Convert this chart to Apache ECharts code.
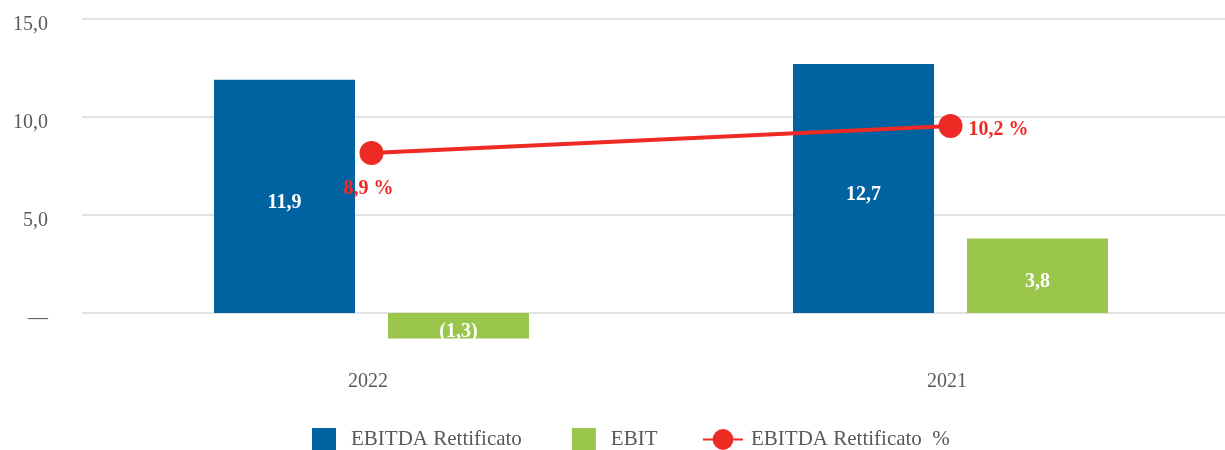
<!DOCTYPE html>
<html><head><meta charset="utf-8">
<script src="https://cdn.jsdelivr.net/npm/echarts@6/dist/echarts.min.js"></script>
<style>html,body{margin:0;padding:0;background:#fff}#c{width:1225px;height:450px}</style>
</head><body><div id="c"></div>
<script>
const categories = ['2022', '2021'];
const ebitdaAdj = [11.9, 12.7];
const ebit = [-1.3, 3.8];
const ebitdaPct = [8.9, 10.2];
const yTicks = [0, 5, 10, 15];

const FONT = 'Liberation Serif';
const fmt = v => v.toFixed(1).replace('.', ',');
const barFmt = p => p.value < 0 ? '(' + fmt(-p.value) + ')' : fmt(p.value);

const chart = echarts.init(document.getElementById('c'));
chart.setOption({
  animation: false,
  textStyle: { fontFamily: FONT },
  grid: { left: 82, width: 1158, top: 19, bottom: 137, containLabel: false, outerBoundsMode: 'none' },
  legend: [
    { data: ['EBITDA Rettificato', 'EBIT'], left: 312, top: 428, padding: 0, icon: 'rect', itemWidth: 24, itemHeight: 22, itemGap: 50,
      textStyle: { fontFamily: FONT, fontSize: 21, color: '#595959', padding: [0, 0, 0, 10] } },
    { data: ['EBITDA Rettificato  %'], left: 702, top: 429, padding: 0, itemWidth: 40, itemHeight: 26,
      textStyle: { fontFamily: FONT, fontSize: 21, color: '#595959', padding: [0, 0, 0, 3] } }
  ],
  xAxis: {
    type: 'category', data: categories,
    axisLine: { show: false }, axisTick: { show: false },
    axisLabel: { margin: 59, fontFamily: FONT, fontSize: 20, color: '#595959', padding: [0, 7, 0, 0] }
  },
  yAxis: [
    { type: 'value', min: yTicks[0], max: yTicks[yTicks.length - 1], interval: 5,
      axisLine: { show: false }, axisTick: { show: false },
      splitLine: { lineStyle: { color: '#d9d9d9', width: 1.5 } },
      axisLabel: { margin: 34, fontFamily: FONT, fontSize: 20, color: '#595959', verticalAlign: 'top', lineHeight: 11,
        formatter: v => v === 0 ? '—' : fmt(v) } },
    { type: 'value', show: false, min: 1.2, max: 15.35, splitLine: { show: false } }
  ],
  series: [
    { name: 'EBITDA Rettificato', type: 'bar', data: ebitdaAdj, barWidth: 141, barGap: '23.4%',
      itemStyle: { color: '#0063A1' }, clip: false,
      label: { show: true, position: 'inside', offset: [0, 6], formatter: barFmt, color: '#fff', fontWeight: 'bold', fontSize: 20, fontFamily: FONT } },
    { name: 'EBIT', type: 'bar', data: ebit, barWidth: 141, barGap: '23.4%',
      itemStyle: { color: '#99C64B' }, clip: false,
      label: { show: true, position: 'inside', offset: [0, 6], formatter: barFmt, color: '#fff', fontWeight: 'bold', fontSize: 20, fontFamily: FONT } },
    { name: 'EBITDA Rettificato  %', type: 'line', yAxisIndex: 1, z: 5,
      data: ebitdaPct.map((v, i) => ({ value: v, label: i === 0 ? { position: 'bottom', distance: 14, offset: [-3, 0] } : { position: 'right', distance: 6, offset: [0, 4] } })),
      symbol: 'circle', symbolSize: 24,
      lineStyle: { color: '#EE2A24', width: 4 }, itemStyle: { color: '#EE2A24' },
      label: { show: true, formatter: p => fmt(p.value) + ' %', color: '#EE2A24', fontWeight: 'bold', fontSize: 20, fontFamily: FONT } }
  ]
});
</script></body></html>
